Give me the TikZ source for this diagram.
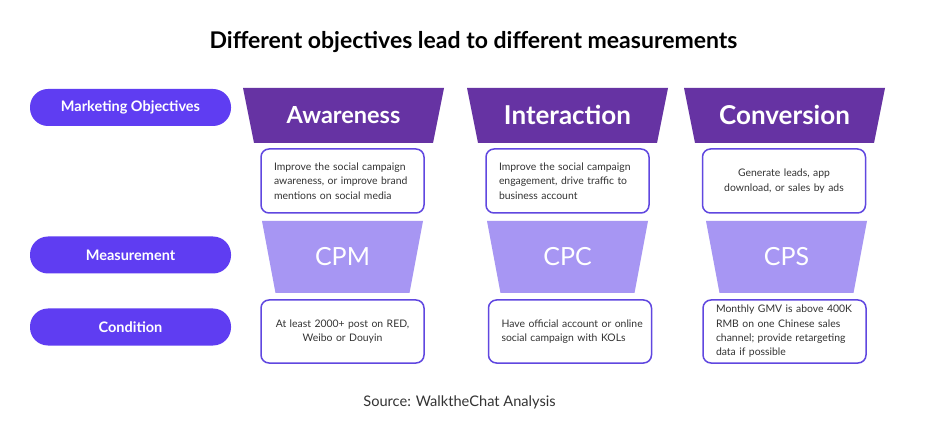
\documentclass[tikz,border=0pt]{standalone}
\usepackage{fontspec}
\setmainfont{Lato}
\definecolor{darkpurple}{HTML}{6633A3}
\definecolor{pillblue}{HTML}{5F3DF2}
\definecolor{lightpurple}{HTML}{A796F3}
\definecolor{boxborder}{HTML}{6047E0}
\definecolor{boxtext}{HTML}{333333}
\begin{document}
\begin{tikzpicture}[x=1pt,y=-1pt,
  pill/.style={fill=pillblue,rounded corners=18pt,minimum width=201pt,minimum height=37pt,inner sep=0pt,text=white,font=\fontsize{14.5}{17}\selectfont\bfseries},
  infobox/.style={draw=boxborder,line width=1.5pt,fill=white,rounded corners=8pt,minimum height=64pt,text width=137pt,inner xsep=13pt,inner ysep=0pt,text=boxtext,font=\fontsize{10.4}{14.3}\selectfont},
  headtext/.style={text=white,inner sep=0pt},
  metrictext/.style={text=white,font=\fontsize{25}{28}\selectfont,inner sep=0pt}
]
\useasboundingbox (0,0) rectangle (947,435);
\fill[white] (0,0) rectangle (947,435);

\node[font=\fontsize{23}{27}\selectfont\bfseries,text=black] (title) at (473.5,42) {Different objectives lead to different measurements};

% pills
\node[pill] (p1) at (130.5,107.5) {Marketing Objectives};
\node[pill] (p2) at (130.5,255) {Measurement};
\node[pill] (p3) at (130.5,327) {Condition};

% dark trapezoids
\foreach \c/\n/\t/\s in {343.5/aw/Awareness/23.5,567.5/in/Interaction/26,784.5/co/Conversion/26}{
  \fill[darkpurple] (\c-100.5,88) -- (\c+100.5,88) -- (\c+89.5,143) -- (\c-89.5,143) -- cycle;
  \node[headtext,font=\fontsize{\s}{30}\selectfont\bfseries] (\n) at (\c,115) {\t};
}
% light trapezoids
\foreach \c/\n/\t in {342.5/cpm/CPM,567.5/cpc/CPC,786.5/cps/CPS}{
  \fill[lightpurple] (\c-80.5,221) -- (\c+80.5,221) -- (\c+67,293) -- (\c-67,293) -- cycle;
  \node[metrictext] (\n) at (\c,257) {\t};
}

% boxes row 1
\node[infobox,align=left] (b1) at (342.5,181) {Improve the social campaign\\awareness, or improve brand\\mentions on social media};
\node[infobox,align=left] (b2) at (567.5,181) {Improve the social campaign\\engagement, drive traffic to\\business account};
\node[infobox,align=center] (b3) at (784,181) {Generate leads, app\\download, or sales by ads};

% boxes row 2
\node[infobox,align=center,minimum height=63pt] (c1) at (342.5,331.5) {At least 2000+ post on RED,\\Weibo or Douyin};
\node[infobox,align=left,minimum height=63pt] (c2) at (570,331.5) {\mbox{Have official account or online}\\social campaign with KOLs};
\node[infobox,align=left,minimum height=63pt] (c3) at (784.5,331.5) {Monthly GMV is above 400K\\RMB on one Chinese sales\\channel; provide retargeting\\data if possible};

\node[font=\fontsize{14.6}{17}\selectfont,text=boxtext] (src) at (459.5,402) {Source: WalktheChat Analysis};
\end{tikzpicture}
\end{document}
